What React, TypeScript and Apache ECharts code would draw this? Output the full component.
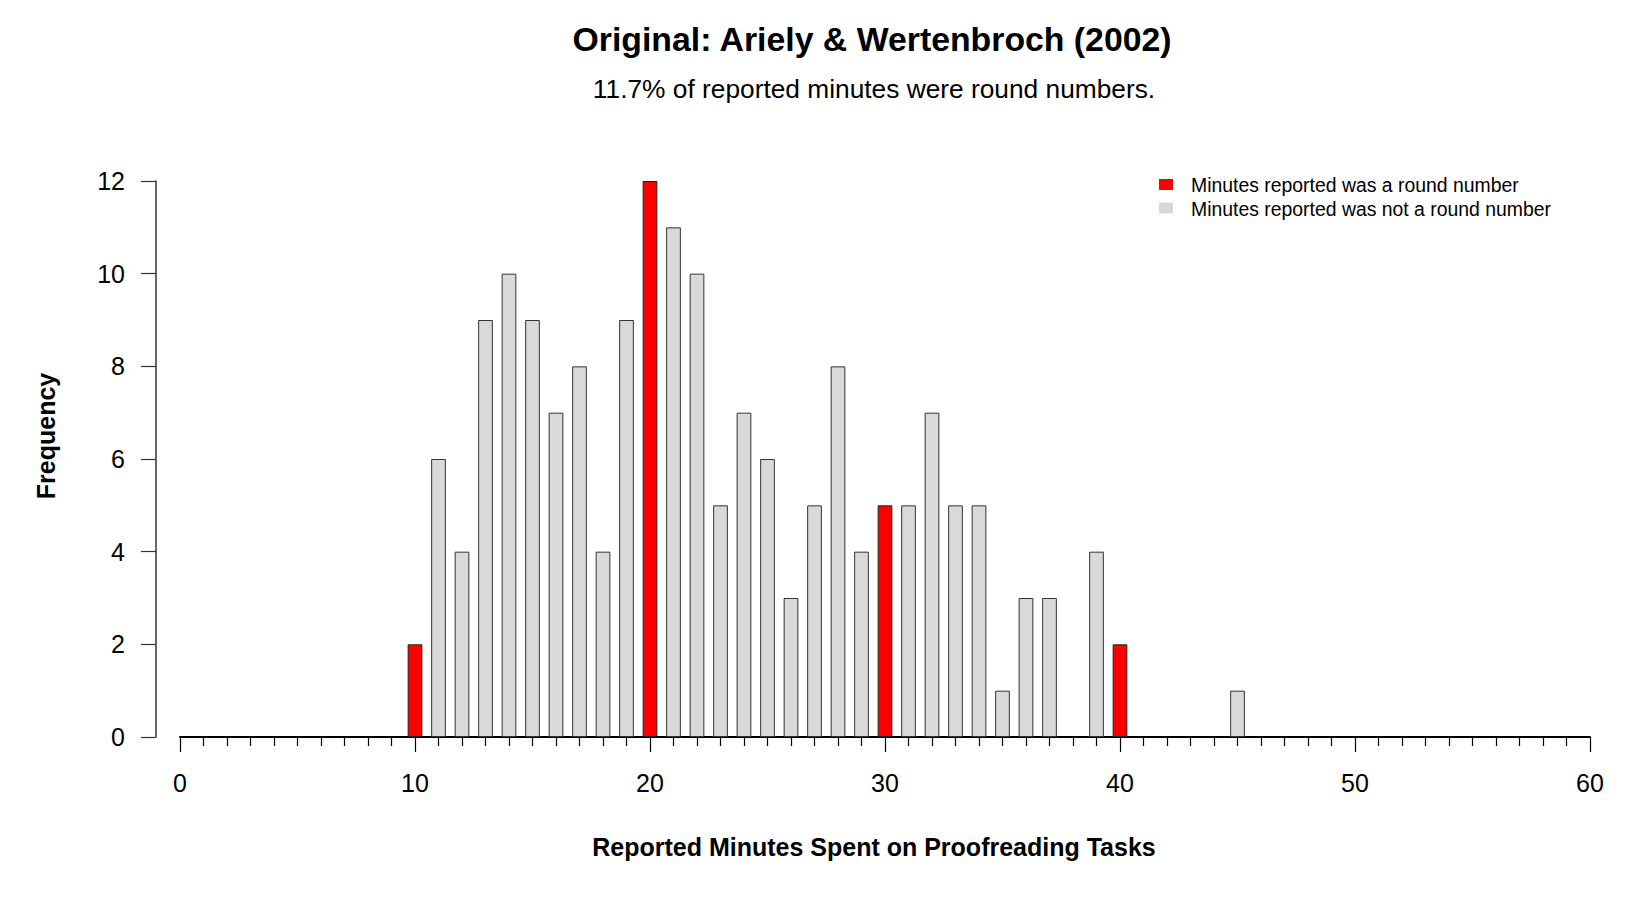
import React, { useEffect, useRef } from "react";
import * as echarts from "echarts";

const minutes = [10, 11, 12, 13, 14, 15, 16, 17, 18, 19, 20, 21, 22, 23, 24, 25, 26, 27, 28, 29, 30, 31, 32, 33, 34, 35, 36, 37, 38, 39, 40, 45];
const frequency = [2, 6, 4, 9, 10, 9, 7, 8, 4, 9, 12, 11, 10, 5, 7, 6, 3, 5, 8, 4, 5, 5, 7, 5, 5, 1, 3, 3, 0, 4, 2, 1];
const roundMinutes = [10, 20, 30, 40];
const roundLabel = "Minutes reported was a round number";
const nonRoundLabel = "Minutes reported was not a round number";
const titleText = "Original: Ariely & Wertenbroch (2002)";
const subtitleText = "11.7% of reported minutes were round numbers.";
const xName = "Reported Minutes Spent on Proofreading Tasks";
const yName = "Frequency";

const FONT = '"Liberation Sans", Arial, Helvetica, sans-serif';

export default function App() {
  const ref = useRef<HTMLDivElement>(null);
  useEffect(() => {
    if (!ref.current) return;
    const chart = echarts.init(ref.current, undefined, { renderer: "svg" });
    const roundData: [number, number][] = [];
    const otherData: [number, number][] = [];
    minutes.forEach((m, i) => {
      if (frequency[i] <= 0) return;
      if (roundMinutes.includes(m)) roundData.push([m, frequency[i]]);
      else otherData.push([m, frequency[i]]);
    });
    const barCommon = {
      type: "bar" as const,
      barWidth: 14.7,
      barGap: "-100%",
      silent: true,
    };
    chart.setOption({
      animation: false,
      backgroundColor: "#ffffff",
      textStyle: { fontFamily: FONT },
      grid: { left: 180, right: 60, top: 181, bottom: 165, containLabel: false },
      xAxis: {
        type: "value",
        min: 0,
        max: 60,
        interval: 10,
        axisLine: { show: true, onZero: false, lineStyle: { color: "#000", width: 2 } },
        axisTick: { show: true, inside: false, length: 15, lineStyle: { color: "#000", width: 1.2 } },
        minorTick: { show: true, splitNumber: 10, length: 9, lineStyle: { color: "#000", width: 1.2 } },
        splitLine: { show: false },
        minorSplitLine: { show: false },
        axisLabel: { color: "#000", fontSize: 25, fontFamily: FONT, margin: 33 },
      },
      yAxis: {
        type: "value",
        min: 0,
        max: 12,
        interval: 2,
        offset: 24,
        axisLine: { show: true, onZero: false, lineStyle: { color: "#333", width: 1.5 } },
        axisTick: { show: true, inside: false, length: 15, lineStyle: { color: "#333", width: 1.2 } },
        splitLine: { show: false },
        axisLabel: { color: "#000", fontSize: 25, fontFamily: FONT, margin: 31 },
      },
      series: [
        {
          ...barCommon,
          name: nonRoundLabel,
          data: otherData,
          itemStyle: { color: "#d9d9d9", borderColor: "#333", borderWidth: 1 },
        },
        {
          ...barCommon,
          name: roundLabel,
          data: roundData,
          itemStyle: { color: "#ff0000", borderColor: "#222", borderWidth: 1 },
        },
      ],
      graphic: [
        {
          type: "text",
          x: 872,
          y: 39,
          style: { text: titleText, fontSize: 33.8, fontWeight: "bold", fontFamily: FONT, fill: "#000", textAlign: "center", textVerticalAlign: "middle" },
        },
        {
          type: "text",
          x: 874,
          y: 89,
          style: { text: subtitleText, fontSize: 26.3, fontFamily: FONT, fill: "#000", textAlign: "center", textVerticalAlign: "middle" },
        },
        {
          type: "text",
          x: 874,
          y: 847,
          style: { text: xName, fontSize: 25, fontWeight: "bold", fontFamily: FONT, fill: "#000", textAlign: "center", textVerticalAlign: "middle" },
        },
        {
          type: "text",
          x: 46,
          y: 436,
          rotation: Math.PI / 2,
          style: { text: yName, fontSize: 25, fontWeight: "bold", fontFamily: FONT, fill: "#000", textAlign: "center", textVerticalAlign: "middle" },
        },
        { type: "rect", shape: { x: 1159, y: 179, width: 14, height: 11 }, style: { fill: "#ff0000" } },
        {
          type: "text",
          x: 1191,
          y: 185,
          style: { text: roundLabel, fontSize: 19.4, fontFamily: FONT, fill: "#000", textAlign: "left", textVerticalAlign: "middle" },
        },
        { type: "rect", shape: { x: 1159, y: 202.5, width: 14, height: 11 }, style: { fill: "#d9d9d9" } },
        {
          type: "text",
          x: 1191,
          y: 208.5,
          style: { text: nonRoundLabel, fontSize: 19.4, fontFamily: FONT, fill: "#000", textAlign: "left", textVerticalAlign: "middle" },
        },
      ],
    });
    return () => chart.dispose();
  }, []);
  return <div ref={ref} style={{ position: "fixed", left: 0, top: 0, width: 1650, height: 902, background: "#fff" }} />;
}
